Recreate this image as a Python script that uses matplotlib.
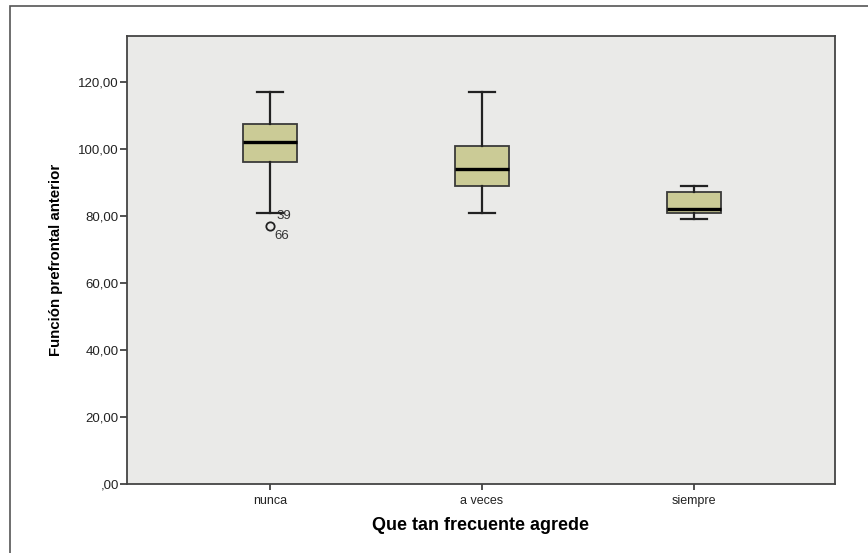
import matplotlib.pyplot as plt
from matplotlib.patches import Rectangle
from matplotlib.ticker import FuncFormatter

# Summary statistics per group (Función prefrontal anterior)
categories = ["nunca", "a veces", "siempre"]
whisker_low = [81, 81, 79]
q1 = [96, 89, 81]
medians = [102, 94, 82]
q3 = [107.5, 101, 87]
whisker_high = [117, 117, 89]
outliers = [[77], [], []]
outlier_ids = [["39", "66"], [], []]

y_ticks = [0, 20, 40, 60, 80, 100, 120]

plt.rcParams["font.family"] = ["Liberation Sans", "DejaVu Sans"]

fig = plt.figure(figsize=(8.68, 5.53), dpi=100)
ax = fig.add_axes([127 / 868, 69 / 553, 708 / 868, 448 / 553])
ax.set_facecolor("#eaeae8")

# frame around the chart
fig.patches.append(Rectangle((10 / 868, -0.05), 1.1, 1.05 - 6 / 553,
                             transform=fig.transFigure, fill=False,
                             edgecolor="#555555", linewidth=1.2))

stats = []
for i, name in enumerate(categories):
    stats.append({
        "label": name,
        "whislo": whisker_low[i],
        "q1": q1[i],
        "med": medians[i],
        "q3": q3[i],
        "whishi": whisker_high[i],
        "fliers": outliers[i],
    })

positions = list(range(1, len(categories) + 1))
ax.bxp(stats, positions=positions, widths=0.253, patch_artist=True,
       showfliers=True,
       boxprops=dict(facecolor="#cbcb96", edgecolor="#3a3a3a", linewidth=1.3),
       medianprops=dict(color="black", linewidth=2.4),
       whiskerprops=dict(color="#222222", linewidth=1.6),
       capprops=dict(color="#222222", linewidth=1.6),
       capwidths=0.126,
       flierprops=dict(marker="o", markersize=6, markerfacecolor="none",
                       markeredgecolor="#222222", markeredgewidth=1.3))

# case numbers next to the outliers
for i, ids in enumerate(outlier_ids):
    if not ids:
        continue
    pos = positions[i]
    ax.annotate(ids[0], (pos, outliers[i][0]), xytext=(4.3, 7.5),
                textcoords="offset points", fontsize=9.5, color="#333333",
                va="center", ha="left")
    ax.annotate(ids[1], (pos, outliers[i][0]), xytext=(2.9, -7),
                textcoords="offset points", fontsize=9.5, color="#333333",
                va="center", ha="left")

ax.set_xlim(0.325, 3.665)
ax.set_ylim(0, 133.7)
ax.set_yticks(y_ticks)
ax.yaxis.set_major_formatter(
    FuncFormatter(lambda v, _: (",00" if v == 0 else f"{v:.2f}".replace(".", ","))))
ax.set_xticks(positions)
ax.set_xticklabels(categories)

ax.tick_params(axis="y", length=5, width=1.2, color="#333333",
               labelsize=9.5, labelcolor="#222222", pad=1)
ax.tick_params(axis="x", length=4, width=1.2, color="#333333",
               labelsize=9, labelcolor="#222222", pad=4)

for side in ["left", "bottom", "top", "right"]:
    ax.spines[side].set_color("#444444")
    ax.spines[side].set_linewidth(1.3)

ax.set_ylabel("Función prefrontal anterior", fontsize=10.8, fontweight="bold",
              labelpad=11)
ax.set_xlabel("Que tan frecuente agrede", fontsize=13, fontweight="bold",
              labelpad=7)

fig.savefig("out.png", dpi=100)
